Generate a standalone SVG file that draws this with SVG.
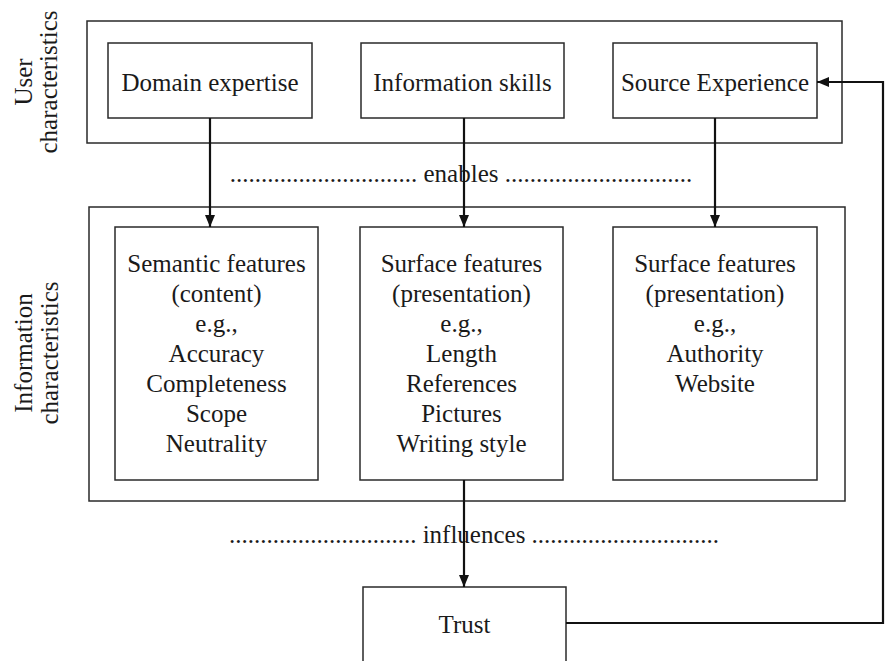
<svg xmlns="http://www.w3.org/2000/svg" width="885" height="661" viewBox="0 0 885 661">
<style>
  text { font-family: "Liberation Serif", "Times New Roman", serif; font-size: 25px; fill: #1a1a1a; }
  .c { text-anchor: middle; }
  .box { fill: #fff; stroke: #2a2a2a; stroke-width: 1.5; }
  .frame { fill: none; stroke: #2a2a2a; stroke-width: 1.5; }
  .conn { fill: none; stroke: #111; stroke-width: 2.2; }
</style>
<defs>
  <marker id="arr" markerWidth="12" markerHeight="10" refX="12" refY="5" orient="auto" markerUnits="userSpaceOnUse">
    <path d="M0,0 L12,5 L0,10 Z" fill="#111"/>
  </marker>
</defs>
<rect width="885" height="661" fill="#fff"/>

<g id="user-characteristics">
  <rect class="frame" x="87" y="21" width="755" height="122"/>
  <text class="c" transform="translate(32,82) rotate(-90)">User</text>
  <text class="c" transform="translate(57,82) rotate(-90)">characteristics</text>
</g>
<g id="information-characteristics">
  <rect class="frame" x="89" y="207" width="756" height="294"/>
  <text class="c" transform="translate(32,353) rotate(-90)">Information</text>
  <text class="c" transform="translate(58,353) rotate(-90)">characteristics</text>
</g>

<g id="domain-expertise">
  <rect class="box" x="108" y="43" width="204" height="75"/>
  <text class="c" x="210" y="91">Domain expertise</text>
</g>
<g id="information-skills">
  <rect class="box" x="361" y="43" width="203" height="75"/>
  <text class="c" x="462.5" y="91">Information skills</text>
</g>
<g id="source-experience">
  <rect class="box" x="613" y="43" width="204" height="75"/>
  <text class="c" x="715" y="91">Source Experience</text>
</g>

<g id="semantic-features">
  <rect class="box" x="115" y="227" width="203" height="253"/>
  <text class="c" x="216.5" y="272">Semantic features</text>
  <text class="c" x="216.5" y="302">(content)</text>
  <text class="c" x="216.5" y="332">e.g.,</text>
  <text class="c" x="216.5" y="362">Accuracy</text>
  <text class="c" x="216.5" y="392">Completeness</text>
  <text class="c" x="216.5" y="422">Scope</text>
  <text class="c" x="216.5" y="452">Neutrality</text>
</g>
<g id="surface-features-1">
  <rect class="box" x="360" y="227" width="203" height="253"/>
  <text class="c" x="461.5" y="272">Surface features</text>
  <text class="c" x="461.5" y="302">(presentation)</text>
  <text class="c" x="461.5" y="332">e.g.,</text>
  <text class="c" x="461.5" y="362">Length</text>
  <text class="c" x="461.5" y="392">References</text>
  <text class="c" x="461.5" y="422">Pictures</text>
  <text class="c" x="461.5" y="452">Writing style</text>
</g>
<g id="surface-features-2">
  <rect class="box" x="613" y="227" width="204" height="253"/>
  <text class="c" x="715" y="272">Surface features</text>
  <text class="c" x="715" y="302">(presentation)</text>
  <text class="c" x="715" y="332">e.g.,</text>
  <text class="c" x="715" y="362">Authority</text>
  <text class="c" x="715" y="392">Website</text>
</g>

<g id="trust">
  <rect class="box" x="363" y="587" width="203" height="90"/>
  <text class="c" x="464.5" y="633">Trust</text>
</g>

<g id="labels">
  <text class="c" x="461" y="182">.............................. enables ..............................</text>
  <text class="c" x="474" y="543">.............................. influences ..............................</text>
</g>

<g id="connectors">
  <line class="conn" x1="210" y1="118" x2="210" y2="227" marker-end="url(#arr)"/>
  <line class="conn" x1="464" y1="118" x2="464" y2="227" marker-end="url(#arr)"/>
  <line class="conn" x1="715" y1="118" x2="715" y2="227" marker-end="url(#arr)"/>
  <line class="conn" x1="464" y1="480" x2="464" y2="587" marker-end="url(#arr)"/>
  <polyline class="conn" points="566,623 883,623 883,82 817,82" marker-end="url(#arr)"/>
</g>
</svg>
